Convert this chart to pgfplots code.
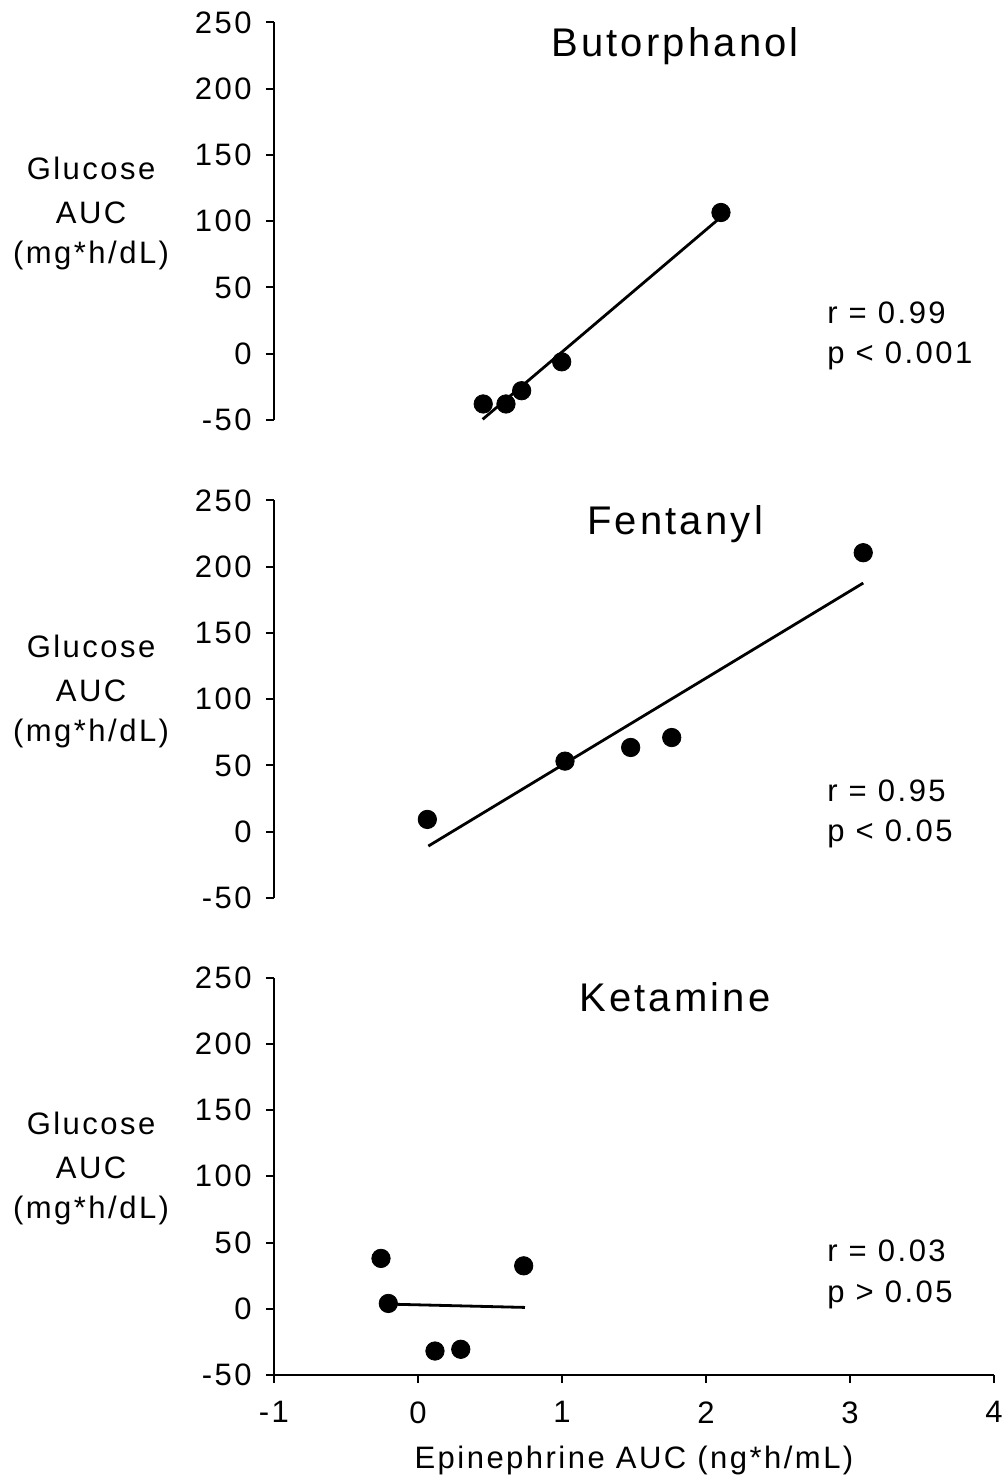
\documentclass[border=0pt]{standalone}
\usepackage{fontspec}
\setmainfont{Liberation Sans}[LetterSpace=8]
\usepackage{pgfplots}
\pgfplotsset{compat=1.18}
\newcommand{\tx}{\fontsize{15.5}{18}\selectfont}
\pgfplotsset{
  panel/.style={
    scale only axis, width=360pt, height=198.75pt,
    xmin=-1, xmax=4, ymin=-50, ymax=250,
    axis y line*=left,
    ytick={-50,0,50,100,150,200,250},
    tick align=outside, major tick length=4pt,
    axis line style={line width=1pt, -},
    tick style={line width=1pt, black},
    /pgf/number format/assume math mode=true,
    tick label style={font=\tx},
    yticklabel style={anchor=east, inner sep=0pt, xshift=-7pt},
    clip=false,
  },
  topstyle/.style={panel, axis x line=none},
  pts/.style={only marks, mark=*, mark size=4.6pt, mark options={fill=black, draw=black}},
  fit/.style={no marks, black, line width=1.4pt},
}
\newcommand{\ylab}{%
  \node[anchor=base, font=\tx] at (axis cs:-2.27,131.7) {Glucose};
  \node[anchor=base, font=\tx] at (axis cs:-2.27,98.5) {AUC};
  \node[anchor=base, font=\tx] at (axis cs:-2.27,68.3) {(mg*h/dL)};
}
\begin{document}
\begin{tikzpicture}
\useasboundingbox (-137pt,-52pt) rectangle (365pt,687.5pt);
% Panel 1: Butorphanol
\begin{axis}[topstyle, at={(0,477.5pt)}, anchor=south west]
  \addplot[pts] coordinates {(0.453,-37.9) (0.611,-37.9) (0.720,-27.9) (0.998,-6.1) (2.104,106.6)};
  \addplot[fit] coordinates {(0.449,-49.5) (2.097,102.5)};
  \node[anchor=base, font=\fontsize{20}{24}\selectfont] at (axis cs:1.785,224) {Butorphanol};
  \node[anchor=base west, inner sep=0pt, font=\tx] at (axis cs:2.84,23.1) {r = 0.99};
  \node[anchor=base west, inner sep=0pt, font=\tx] at (axis cs:2.84,-7.0) {p < 0.001};
  \ylab
\end{axis}
% Panel 2: Fentanyl
\begin{axis}[topstyle, at={(0,238.5pt)}, anchor=south west]
  \addplot[pts] coordinates {(0.065,9.3) (1.021,53.3) (1.477,63.6) (1.762,71.1) (3.092,210.6)};
  \addplot[fit] coordinates {(0.072,-10.8) (3.092,187.7)};
  \node[anchor=base, font=\fontsize{20}{24}\selectfont] at (axis cs:1.785,224) {Fentanyl};
  \node[anchor=base west, inner sep=0pt, font=\tx] at (axis cs:2.84,23.1) {r = 0.95};
  \node[anchor=base west, inner sep=0pt, font=\tx] at (axis cs:2.84,-7.0) {p < 0.05};
  \ylab
\end{axis}
% Panel 3: Ketamine
\begin{axis}[panel, at={(0,0)}, anchor=south west,
  axis x line*=bottom, xtick={-1,0,1,2,3,4},
  xticklabel style={anchor=north, inner sep=0pt, yshift=-9pt}]
  \addplot[pts] coordinates {(-0.257,38.0) (-0.206,4.0) (0.118,-31.9) (0.297,-30.6) (0.734,32.4)};
  \addplot[fit] coordinates {(-0.206,3.5) (0.743,1.0)};
  \node[anchor=base, font=\fontsize{20}{24}\selectfont] at (axis cs:1.785,224) {Ketamine};
  \node[anchor=base west, inner sep=0pt, font=\tx] at (axis cs:2.84,35.5) {r = 0.03};
  \node[anchor=base west, inner sep=0pt, font=\tx] at (axis cs:2.84,5.0) {p > 0.05};
  \ylab
  \node[anchor=base, font=\tx] at (axis cs:1.5,-120.5) {Epinephrine AUC (ng*h/mL)};
\end{axis}
\end{tikzpicture}
\end{document}
